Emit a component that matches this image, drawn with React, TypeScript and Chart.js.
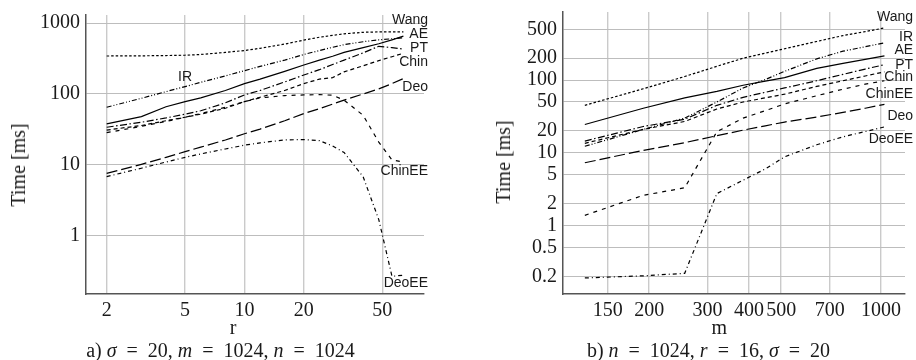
import React, { useEffect, useRef } from "react";
import { Chart, registerables } from "chart.js";
Chart.register(...registerables);

// ---------- Panel a) : time vs r ----------
const rValues = [2, 3, 4, 5, 6, 8, 10, 12, 16, 20, 24, 28, 32, 40, 48, 56, 64];
const aWang = [343, 345, 348, 352, 360, 385, 410, 440, 505, 575, 630, 670, 705, 740, 750, 750, 750];
const aIR = [65, 87, 108, 127, 146, 180, 213, 245, 300, 360, 410, 455, 495, 545, 580, 600, 620];
const aAE = [38, 48, 66, 78, 88, 112, 140, 162, 208, 256, 300, 340, 385, 450, 510, 580, 655];
const aPT = [34, 40, 46, 52, 58, 75, 97, 112, 148, 185, 220, 260, 300, 380, 470, 450, 430];
const aChin = [31, 36, 42, 47, 52, 63, 78, 90, 112, 140, 162, 170, 205, 250, 295, 335, 375];
const aDeo = [7.6, 10.2, 12.8, 15.4, 17.8, 22.5, 27.5, 32, 42, 53, 62, 72, 82, 100, 118, 140, 165];
const aChinEE = [28.5, 35, 41, 47, 53, 65, 78, 88, 95, 97, 98, 96, 82, 50, 21, 11.8, 11];
const aDeoEE = [6.85, 9, 11, 12.8, 14.3, 16.8, 19, 20.5, 22.5, 22.8, 22, 18.5, 15, 6.8, 1.7, 0.27, 0.28];
const aXTicks = [2, 5, 10, 20, 50];
const aYTicks = [1, 10, 100, 1000];

// ---------- Panel b) : time vs m ----------
const mValues = [128, 192, 256, 320, 384, 448, 512, 640, 768, 896, 1024];
const bWang = [45, 76, 112, 155, 200, 235, 270, 340, 410, 465, 522];
const bIR = [12.3, 21, 30, 50, 78, 102, 132, 196, 250, 288, 326];
const bAE = [24.5, 41, 57, 70, 85, 97, 108, 145, 170, 193, 215];
const bPT = [14.5, 23, 29, 45, 58, 68, 78, 98, 120, 142, 163];
const bChin = [13.5, 21, 27, 40, 50, 57, 64, 82, 98, 114, 130];
const bChinEE = [1.38, 2.6, 3.3, 19.5, 30, 38, 47, 61, 75, 88, 98];
const bDeo = [7.3, 10.8, 13.8, 17.2, 20.5, 23.5, 26.5, 31, 36, 41, 46.4];
const bDeoEE = [0.19, 0.203, 0.22, 2.75, 4.2, 6, 8.8, 12.9, 16.6, 19.6, 22.7];
const bXTicks = [150, 200, 300, 400, 500, 700, 1000];
const bYTicks = [0.2, 0.5, 1, 2, 5, 10, 20, 50, 100, 200, 500];

// line styles per method
const DASH: Record<string, number[]> = {
  Wang: [2.5, 2],
  IR: [5, 2, 1, 2, 1, 2],
  AE: [],
  PT: [7, 2.5, 1.5, 2.5],
  Chin: [4, 3],
  ChinEE: [4, 5],
  Deo: [11, 4],
  DeoEE: [4, 3, 1, 3],
};

// curve labels, anchored in data coordinates
const aLabels = [
  { text: "Wang", x: 85.3, y: 1088, align: "right" },
  { text: "AE", x: 85.3, y: 706, align: "right" },
  { text: "PT", x: 85.3, y: 449, align: "right" },
  { text: "Chin", x: 85.3, y: 285, align: "right" },
  { text: "Deo", x: 85.3, y: 124, align: "right" },
  { text: "ChinEE", x: 85.3, y: 8.3, align: "right" },
  { text: "DeoEE", x: 85.3, y: 0.213, align: "right" },
  { text: "IR", x: 4.6, y: 170, align: "left" },
];
const bLabels = [
  { text: "Wang", x: 1249, y: 726, align: "right" },
  { text: "IR", x: 1249, y: 392, align: "right" },
  { text: "AE", x: 1249, y: 259, align: "right" },
  { text: "PT", x: 1249, y: 161, align: "right" },
  { text: "Chin", x: 1249, y: 110, align: "right" },
  { text: "ChinEE", x: 1249, y: 64.4, align: "right" },
  { text: "Deo", x: 1249, y: 32, align: "right" },
  { text: "DeoEE", x: 1249, y: 15.5, align: "right" },
];

const labelPlugin = {
  id: "curveLabels",
  afterDatasetsDraw(chart: any, _args: any, opts: any) {
    const { ctx } = chart;
    const x = chart.scales.x;
    const y = chart.scales.y;
    ctx.save();
    ctx.font = '14px "Liberation Sans", Arial, sans-serif';
    ctx.fillStyle = "#1a1a1a";
    ctx.textBaseline = "middle";
    for (const l of opts.items || []) {
      ctx.textAlign = l.align;
      ctx.fillText(l.text, x.getPixelForValue(l.x), y.getPixelForValue(l.y));
    }
    ctx.restore();
  },
};

function makeDatasets(xs: number[], series: [string, number[]][]) {
  return series.map(([name, vals]) => ({
    label: name,
    data: xs.map((v, i) => ({ x: v, y: vals[i] })),
    borderColor: "#000",
    borderWidth: 1.2,
    borderDash: DASH[name],
    pointRadius: 0,
    tension: 0,
    fill: false,
  }));
}

const serif = "'Liberation Serif', 'Times New Roman', serif";

function makeConfig(opts: {
  datasets: any[];
  xMin: number; xMax: number; yMin: number; yMax: number;
  xTicks: number[]; yTicks: number[];
  yWidth: number; top: number; right: number; labels: any[];
}) {
  const tickFont = { family: serif, size: 20 };
  return {
    type: "line",
    data: { datasets: opts.datasets },
    plugins: [labelPlugin],
    options: {
      responsive: false,
      animation: false,
      parsing: true,
      layout: { padding: { left: 0, top: opts.top, right: opts.right, bottom: 0 } },
      plugins: {
        legend: { display: false },
        tooltip: { enabled: false },
        title: { display: false },
        curveLabels: { items: opts.labels },
      },
      scales: {
        x: {
          type: "logarithmic",
          min: opts.xMin,
          max: opts.xMax,
          afterBuildTicks: (s: any) => { s.ticks = opts.xTicks.map((v) => ({ value: v })); },
          afterFit: (s: any) => {
            s.height = 66;
            s.paddingLeft = 0; s.paddingRight = 0; s.paddingTop = 0; s.paddingBottom = 0;
          },
          ticks: {
            autoSkip: false, maxRotation: 0, minRotation: 0, padding: 5,
            color: "#1a1a1a", font: tickFont,
            callback: (v: any) => String(v),
          },
          grid: { color: "#cacaca", lineWidth: 1.4, drawTicks: false },
          border: { display: true, color: "#555", width: 1.5 },
        },
        y: {
          type: "logarithmic",
          min: opts.yMin,
          max: opts.yMax,
          afterBuildTicks: (s: any) => { s.ticks = opts.yTicks.map((v) => ({ value: v })); },
          afterFit: (s: any) => {
            s.width = opts.yWidth;
            s.paddingLeft = 0; s.paddingRight = 0; s.paddingTop = 0; s.paddingBottom = 0;
          },
          ticks: {
            autoSkip: false, padding: 6,
            color: "#1a1a1a", font: tickFont,
            callback: (v: any) => String(v),
          },
          grid: { color: "#bdbdbd", lineWidth: 1, drawTicks: false },
          border: { display: true, color: "#555", width: 1.5 },
        },
      },
    },
  };
}

export default function App() {
  const leftRef = useRef<HTMLCanvasElement | null>(null);
  const rightRef = useRef<HTMLCanvasElement | null>(null);

  useEffect(() => {
    const left = new Chart(leftRef.current as HTMLCanvasElement, makeConfig({
      datasets: makeDatasets(rValues, [
        ["Wang", aWang], ["IR", aIR], ["AE", aAE], ["PT", aPT],
        ["Chin", aChin], ["Deo", aDeo], ["ChinEE", aChinEE], ["DeoEE", aDeoEE],
      ]),
      xMin: 1.571, xMax: 81.4, yMin: 0.152, yMax: 1297,
      xTicks: aXTicks, yTicks: aYTicks,
      yWidth: 86, top: 15, right: 34, labels: aLabels,
    }) as any);
    const right = new Chart(rightRef.current as HTMLCanvasElement, makeConfig({
      datasets: makeDatasets(mValues, [
        ["Wang", bWang], ["IR", bIR], ["AE", bAE], ["PT", bPT],
        ["Chin", bChin], ["ChinEE", bChinEE], ["Deo", bDeo], ["DeoEE", bDeoEE],
      ]),
      xMin: 110, xMax: 1181, yMin: 0.1142, yMax: 865,
      xTicks: bXTicks, yTicks: bYTicks,
      yWidth: 105, top: 12, right: 11, labels: bLabels,
    }) as any);
    return () => { left.destroy(); right.destroy(); };
  }, []);

  const txt: React.CSSProperties = {
    position: "absolute",
    fontFamily: serif,
    fontSize: 20,
    lineHeight: "24px",
    color: "#1a1a1a",
    whiteSpace: "nowrap",
    transform: "translate(-50%, -50%)",
  };
  const rot: React.CSSProperties = { ...txt, transform: "translate(-50%, -50%) rotate(-90deg)" };
  const eq = "\u2002=\u2002";

  return (
    <div style={{ position: "absolute", left: 0, top: 0, width: 916, height: 360, background: "#fff", overflow: "hidden" }}>
      <canvas ref={leftRef} width={458} height={360} style={{ position: "absolute", left: 0, top: 0, width: 458, height: 360 }} />
      <canvas ref={rightRef} width={458} height={360} style={{ position: "absolute", left: 458, top: 0, width: 458, height: 360 }} />
      <div style={{ ...rot, left: 17.5, top: 164.5 }}>Time [ms]</div>
      <div style={{ ...rot, left: 503, top: 161.5 }}>Time [ms]</div>
      <div style={{ ...txt, left: 233, top: 326.7 }}>r</div>
      <div style={{ ...txt, left: 719.3, top: 326.7 }}>m</div>
      <div style={{ ...txt, left: 220.5, top: 350 }}>
        a) <i>σ</i>{eq}20, <i>m</i>{eq}1024, <i>n</i>{eq}1024
      </div>
      <div style={{ ...txt, left: 708.5, top: 350 }}>
        b) <i>n</i>{eq}1024, <i>r</i>{eq}16, <i>σ</i>{eq}20
      </div>
    </div>
  );
}
